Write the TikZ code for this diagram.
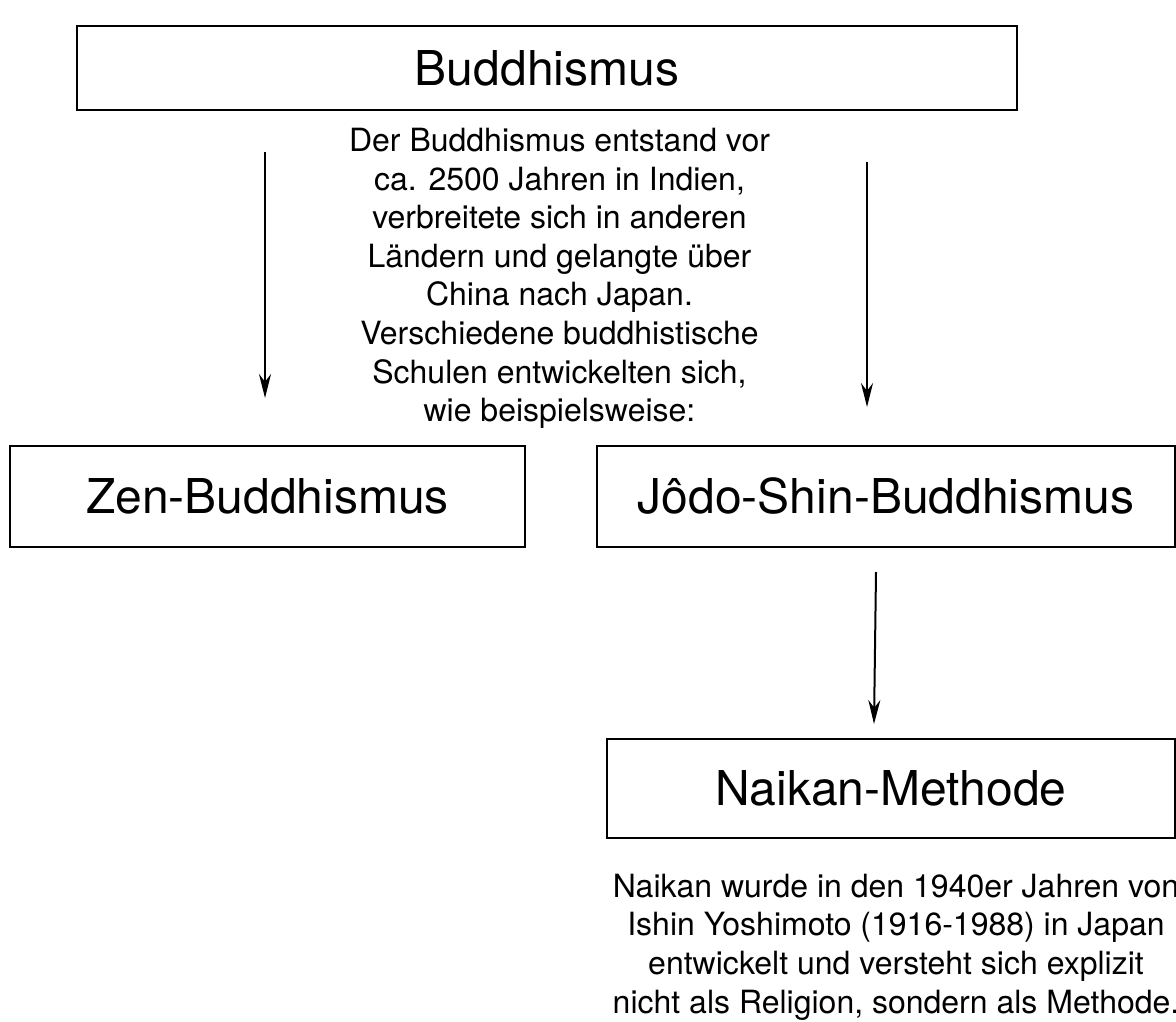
\documentclass[tikz,border=0pt]{standalone}
\usepackage{fontspec}
\setmainfont{TeX Gyre Heros}
\usetikzlibrary{arrows.meta,positioning}

\tikzset{
  box/.style={rectangle, draw, line width=1pt, inner sep=0pt, font=\fontsize{24}{29}\selectfont},
  note/.style={align=center, inner sep=0pt, font=\fontsize{16}{19.3}\selectfont},
  link/.style={-{Stealth[length=12pt,width=6pt]}, line width=1pt}
}

\begin{document}
\begin{tikzpicture}[x=0.5pt, y=-0.5pt]
        \useasboundingbox (0,0) rectangle (1176,1021);
        \node (buddh) [box, minimum width=470pt, minimum height=42pt] at (547,68) {Buddhismus};
        \node (zen) [box, minimum width=257.5pt, minimum height=50.5pt] at (267.5,496.5) {Zen-Buddhismus};
        \node (jodo) [box, minimum width=289pt, minimum height=50.5pt] at (886,496.5) {Jôdo-Shin-Buddhismus};
        \node (naikan) [box, minimum width=284pt, minimum height=49.5pt] at (891,788.5) {Naikan-Methode};
        \node (info) [note] at (559.5,278.5) {Der Buddhismus entstand vor\\ca. 2500 Jahren in Indien,\\verbreitete sich in anderen\\Ländern und gelangte über\\China nach Japan.\\Verschiedene buddhistische\\Schulen entwickelten sich,\\wie beispielsweise:};
        \node (naikaninfo) [note] at (896,947) {Naikan wurde in den 1940er Jahren von\\Ishin Yoshimoto (1916-1988) in Japan\\entwickelt und versteht sich explizit\\nicht als Religion, sondern als Methode.};
        \coordinate (zentop) at (265,398);
        \coordinate (zenfrom) at (265,152);
        \coordinate (jodotop) at (867,407);
        \coordinate (jodofrom) at (867,162);
        \coordinate (naikantop) at (874,724);
        \coordinate (naikanfrom) at (876,572);
        \draw[link] (zenfrom) -- (zentop);
        \draw[link] (jodofrom) -- (jodotop);
        \draw[link] (naikanfrom) -- (naikantop);
    \end{tikzpicture}
\end{document}
